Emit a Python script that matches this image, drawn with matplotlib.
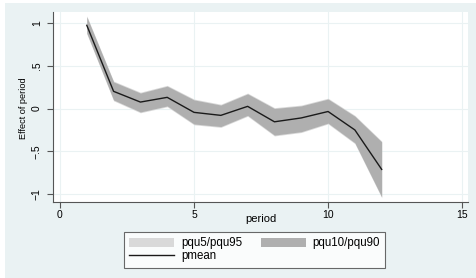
import numpy as np
import matplotlib.pyplot as plt
from matplotlib.patches import Rectangle

period = [1, 2, 3, 4, 5, 6, 7, 8, 9, 10, 11, 12]
pmean = [0.97, 0.20, 0.075, 0.13, -0.045, -0.08, 0.025, -0.155, -0.11, -0.035, -0.25, -0.71]
pqu10 = [0.88, 0.10, -0.04, 0.03, -0.18, -0.21, -0.08, -0.31, -0.27, -0.17, -0.40, -1.03]
pqu90 = [1.07, 0.31, 0.18, 0.26, 0.10, 0.04, 0.17, 0.00, 0.03, 0.11, -0.09, -0.39]
pqu5 = [0.87, 0.09, -0.05, 0.02, -0.19, -0.22, -0.09, -0.32, -0.28, -0.18, -0.41, -1.04]
pqu95 = [1.08, 0.32, 0.19, 0.27, 0.11, 0.05, 0.18, 0.01, 0.04, 0.12, -0.08, -0.38]

bg = '#EAF2F3'
plt.rcParams['font.family'] = ['Liberation Sans', 'DejaVu Sans']

fig = plt.figure(figsize=(4.77, 2.78), dpi=100, facecolor='white')
fig.patches.append(Rectangle((5 / 477, 0), 1, 1 - 3 / 278, transform=fig.transFigure,
                             facecolor=bg, edgecolor='none', zorder=-10))
ax = fig.add_axes([53 / 477, 1 - 202 / 278, (468 - 53) / 477, (202 - 12) / 278])
ax.set_facecolor('white')

ax.fill_between(period, pqu5, pqu95, color='#D9D9D9', linewidth=0, label='pqu5/pqu95')
ax.fill_between(period, pqu10, pqu90, color='#AFAFAF', linewidth=0, label='pqu10/pqu90')
ax.plot(period, pmean, color='#1a1a1a', linewidth=1.0, label='pmean')

ax.set_xlim(-0.26, 15.22)
ax.set_ylim(-1.09, 1.125)
ax.set_xticks([0, 5, 10, 15])
ax.set_yticks([-1, -0.5, 0, 0.5, 1])
ax.set_yticklabels(['\u22121', '\u2212.5', '0', '.5', '1'], rotation=90, va='center')
ax.grid(True, color=bg, linewidth=0.8)
ax.set_axisbelow(True)
for s in ['top', 'right']:
    ax.spines[s].set_visible(False)
for s in ['left', 'bottom']:
    ax.spines[s].set_color('#555555')
    ax.spines[s].set_linewidth(0.8)
ax.tick_params(labelsize=7.5, length=4, width=0.8, color='#555555')
ax.tick_params(axis='y', pad=4)
ax.tick_params(axis='x', pad=2)

fig.text(261 / 477, 1 - 219 / 278, 'period', fontsize=8, ha='center', va='center')
fig.text(24 / 477, 1 - 108 / 278, 'Effect of period', fontsize=6.6, rotation=90,
         ha='center', va='center')

h, l = ax.get_legend_handles_labels()
order = [0, 2, 1]
leg = fig.legend([h[i] for i in order], [l[i] for i in order], loc='upper left',
                 bbox_to_anchor=(124 / 477, 1 - 232 / 278), ncol=2,
                 fontsize=8.3, frameon=True, fancybox=False, borderpad=0.45,
                 handlelength=3.9, handleheight=0.85, handletextpad=0.6,
                 columnspacing=1.6, labelspacing=0.1, borderaxespad=0)
leg.get_frame().set_edgecolor('#444444')
leg.get_frame().set_linewidth(0.8)

fig.savefig('out.png', dpi=100, facecolor=fig.get_facecolor())
